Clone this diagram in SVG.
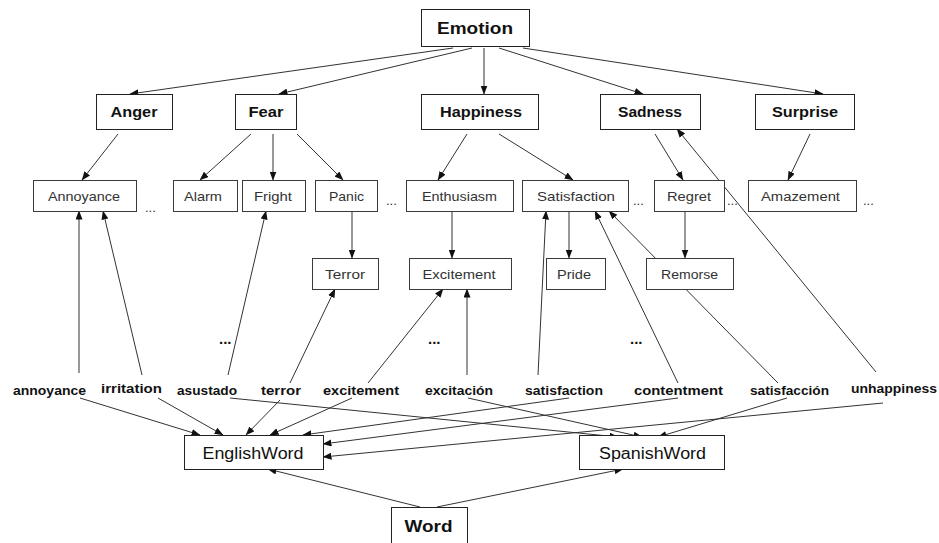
<svg xmlns="http://www.w3.org/2000/svg" width="939" height="543" viewBox="0 0 939 543">
  <style>
    .box { fill: #ffffff; stroke: #222222; stroke-width: 1; }
    .sub { fill: #ffffff; stroke: #3a3a3a; stroke-width: 1; }
    .t1 { font-family: "Liberation Sans", Arial, sans-serif; font-weight: bold; font-size: 17px; fill: #111; }
    .t2 { font-family: "Liberation Sans", Arial, sans-serif; font-weight: bold; font-size: 15px; fill: #111; }
    .t3 { font-family: "Liberation Sans", Arial, sans-serif; font-size: 13px; fill: #333; }
    .tw { font-family: "Liberation Sans", Arial, sans-serif; font-weight: bold; font-size: 13px; fill: #111; }
    .tb { font-family: "Liberation Sans", Arial, sans-serif; font-size: 16px; fill: #111; }
    .dots { font-family: "Liberation Sans", Arial, sans-serif; font-size: 13px; fill: #333; }
    .bdots { font-family: "Liberation Sans", Arial, sans-serif; font-weight: bold; font-size: 15px; fill: #111; }
    .edge { fill: none; stroke: #333333; stroke-width: 1; marker-end: url(#arrow); }
  </style>
  <defs>
    <marker id="arrow" markerWidth="9" markerHeight="7" refX="8.5" refY="3.5" orient="auto" markerUnits="userSpaceOnUse">
      <path d="M0,0 L9,3.5 L0,7 z" fill="#111"/>
    </marker>
  </defs>
  <rect width="939" height="543" fill="#ffffff"/>

  <!-- connectors -->
  <g id="connectors">
    <path class="edge" d="M453,48 L130,94"/>
    <path class="edge" d="M472,48 L279,94"/>
    <path class="edge" d="M484,48 L484,94"/>
    <path class="edge" d="M499,48 L643,94"/>
    <path class="edge" d="M523,48 L823,94"/>

    <path class="edge" d="M118,134 L82,180"/>
    <path class="edge" d="M251,134 L200,180"/>
    <path class="edge" d="M273,134 L273,180"/>
    <path class="edge" d="M297,134 L343,180"/>
    <path class="edge" d="M467,134 L438,180"/>
    <path class="edge" d="M499,134 L573,180"/>
    <path class="edge" d="M655,134 L683,180"/>
    <path class="edge" d="M810,134 L788,180"/>

    <path class="edge" d="M352,211 L352,258"/>
    <path class="edge" d="M452,211 L452,258"/>
    <path class="edge" d="M569,211 L569,258"/>
    <path class="edge" d="M685,211 L685,258"/>

    <!-- words to concepts -->
    <path class="edge" d="M79,373 L79,211"/>
    <path class="edge" d="M142,375 L103,211"/>
    <path class="edge" d="M228,375 L266,211"/>
    <path class="edge" d="M290,383 L335,289"/>
    <path class="edge" d="M368,383 L443,289"/>
    <path class="edge" d="M467,375 L467,289"/>
    <path class="edge" d="M538,375 L546,211"/>
    <path class="edge" d="M678,383 L595,211"/>
    <path class="edge" d="M778,383 L609,211"/>
    <path class="edge" d="M876,372 L677,129"/>

    <!-- words to language classes -->
    <path class="edge" d="M80,398 L200,435"/>
    <path class="edge" d="M158,398 L223,435"/>
    <path class="edge" d="M280,400 L246,435"/>
    <path class="edge" d="M352,398 L270,435"/>
    <path class="edge" d="M569,398 L303,435"/>
    <path class="edge" d="M678,398 L323,444"/>
    <path class="edge" d="M883,403 L323,457"/>
    <path class="edge" d="M230,398 L618,437"/>
    <path class="edge" d="M468,398 L642,437"/>
    <path class="edge" d="M787,398 L658,437"/>

    <path class="edge" d="M420,507 L268,469"/>
    <path class="edge" d="M437,507 L623,469"/>
  </g>

  <!-- top level -->
  <g id="emotion">
    <rect class="box" x="421.5" y="9.5" width="108" height="37"/>
    <text class="t1" x="475" y="34" text-anchor="middle" textLength="76" lengthAdjust="spacingAndGlyphs">Emotion</text>
  </g>

  <!-- basic emotions -->
  <g id="anger">
    <rect class="box" x="96.5" y="94.5" width="76" height="35"/>
    <text class="t2" x="134" y="117" text-anchor="middle" textLength="47" lengthAdjust="spacingAndGlyphs">Anger</text>
  </g>
  <g id="fear">
    <rect class="box" x="235.5" y="94.5" width="61" height="35"/>
    <text class="t2" x="266" y="117" text-anchor="middle" textLength="35" lengthAdjust="spacingAndGlyphs">Fear</text>
  </g>
  <g id="happiness">
    <rect class="box" x="421.5" y="94.5" width="117" height="35"/>
    <text class="t2" x="481" y="117" text-anchor="middle" textLength="82" lengthAdjust="spacingAndGlyphs">Happiness</text>
  </g>
  <g id="sadness">
    <rect class="box" x="600.5" y="94.5" width="100" height="35"/>
    <text class="t2" x="650" y="117" text-anchor="middle" textLength="64" lengthAdjust="spacingAndGlyphs">Sadness</text>
  </g>
  <g id="surprise">
    <rect class="box" x="755.5" y="94.5" width="99" height="35"/>
    <text class="t2" x="805" y="117" text-anchor="middle" textLength="66" lengthAdjust="spacingAndGlyphs">Surprise</text>
  </g>

  <!-- sub-emotions -->
  <g id="annoyance">
    <rect class="sub" x="33.5" y="180.5" width="103" height="31"/>
    <text class="t3" x="84" y="201" text-anchor="middle" textLength="72" lengthAdjust="spacingAndGlyphs">Annoyance</text>
  </g>
  <g id="alarm">
    <rect class="sub" x="173.5" y="180.5" width="64" height="31"/>
    <text class="t3" x="203" y="201" text-anchor="middle" textLength="38" lengthAdjust="spacingAndGlyphs">Alarm</text>
  </g>
  <g id="fright">
    <rect class="sub" x="242.5" y="180.5" width="63" height="31"/>
    <text class="t3" x="273" y="201" text-anchor="middle" textLength="38" lengthAdjust="spacingAndGlyphs">Fright</text>
  </g>
  <g id="panic">
    <rect class="sub" x="315.5" y="180.5" width="62" height="31"/>
    <text class="t3" x="346.5" y="201" text-anchor="middle" textLength="35" lengthAdjust="spacingAndGlyphs">Panic</text>
  </g>
  <g id="enthusiasm">
    <rect class="sub" x="406.5" y="180.5" width="107" height="31"/>
    <text class="t3" x="459.5" y="201" text-anchor="middle" textLength="75" lengthAdjust="spacingAndGlyphs">Enthusiasm</text>
  </g>
  <g id="satisfaction">
    <rect class="sub" x="522.5" y="180.5" width="106" height="31"/>
    <text class="t3" x="576" y="201" text-anchor="middle" textLength="78" lengthAdjust="spacingAndGlyphs">Satisfaction</text>
  </g>
  <g id="regret">
    <rect class="sub" x="654.5" y="180.5" width="70" height="31"/>
    <text class="t3" x="689" y="201" text-anchor="middle" textLength="44" lengthAdjust="spacingAndGlyphs">Regret</text>
  </g>
  <g id="amazement">
    <rect class="sub" x="748.5" y="180.5" width="108" height="31"/>
    <text class="t3" x="800.5" y="201" text-anchor="middle" textLength="79" lengthAdjust="spacingAndGlyphs">Amazement</text>
  </g>

  <g id="terror-node">
    <rect class="sub" x="312.5" y="258.5" width="66" height="31"/>
    <text class="t3" x="345" y="279" text-anchor="middle" textLength="40" lengthAdjust="spacingAndGlyphs">Terror</text>
  </g>
  <g id="excitement-node">
    <rect class="sub" x="409.5" y="258.5" width="102" height="31"/>
    <text class="t3" x="459" y="279" text-anchor="middle" textLength="73" lengthAdjust="spacingAndGlyphs">Excitement</text>
  </g>
  <g id="pride">
    <rect class="sub" x="546.5" y="258.5" width="59" height="31"/>
    <text class="t3" x="574" y="279" text-anchor="middle" textLength="34" lengthAdjust="spacingAndGlyphs">Pride</text>
  </g>
  <g id="remorse">
    <rect class="sub" x="646.5" y="258.5" width="87" height="31"/>
    <text class="t3" x="689.5" y="279" text-anchor="middle" textLength="57" lengthAdjust="spacingAndGlyphs">Remorse</text>
  </g>

  <!-- elisions -->
  <g id="ellipses">
    <text class="dots" x="145" y="212">...</text>
    <text class="dots" x="386" y="205">...</text>
    <text class="dots" x="633" y="205">...</text>
    <text class="dots" x="727" y="205">...</text>
    <text class="dots" x="863" y="205">...</text>
    <text class="bdots" x="219" y="344">...</text>
    <text class="bdots" x="428" y="344">...</text>
    <text class="bdots" x="630" y="344">...</text>
  </g>

  <!-- lexical entries -->
  <g id="w-annoyance"><text class="tw" x="49.5" y="395" text-anchor="middle" textLength="73" lengthAdjust="spacingAndGlyphs">annoyance</text></g>
  <g id="w-irritation"><text class="tw" x="131.5" y="393" text-anchor="middle" textLength="61" lengthAdjust="spacingAndGlyphs">irritation</text></g>
  <g id="w-asustado"><text class="tw" x="207" y="395" text-anchor="middle" textLength="60" lengthAdjust="spacingAndGlyphs">asustado</text></g>
  <g id="w-terror"><text class="tw" x="281" y="395" text-anchor="middle" textLength="40" lengthAdjust="spacingAndGlyphs">terror</text></g>
  <g id="w-excitement"><text class="tw" x="361" y="395" text-anchor="middle" textLength="76" lengthAdjust="spacingAndGlyphs">excitement</text></g>
  <g id="w-excitacion"><text class="tw" x="459" y="395" text-anchor="middle" textLength="68" lengthAdjust="spacingAndGlyphs">excitación</text></g>
  <g id="w-satisfaction"><text class="tw" x="564" y="395" text-anchor="middle" textLength="78" lengthAdjust="spacingAndGlyphs">satisfaction</text></g>
  <g id="w-contentment"><text class="tw" x="678.5" y="395" text-anchor="middle" textLength="89" lengthAdjust="spacingAndGlyphs">contentment</text></g>
  <g id="w-satisfaccion"><text class="tw" x="789.5" y="395" text-anchor="middle" textLength="79" lengthAdjust="spacingAndGlyphs">satisfacción</text></g>
  <g id="w-unhappiness"><text class="tw" x="894" y="393" text-anchor="middle" textLength="86" lengthAdjust="spacingAndGlyphs">unhappiness</text></g>

  <!-- language classes -->
  <g id="englishword">
    <rect class="box" x="184.5" y="435.5" width="139" height="34"/>
    <text class="tb" x="253" y="459" text-anchor="middle" textLength="101" lengthAdjust="spacingAndGlyphs">EnglishWord</text>
  </g>
  <g id="spanishword">
    <rect class="box" x="579.5" y="435.5" width="145" height="34"/>
    <text class="tb" x="652.5" y="459" text-anchor="middle" textLength="107" lengthAdjust="spacingAndGlyphs">SpanishWord</text>
  </g>
  <g id="word">
    <rect class="box" x="391.5" y="507.5" width="76" height="40"/>
    <text class="t1" x="428.5" y="532" text-anchor="middle" textLength="48" lengthAdjust="spacingAndGlyphs">Word</text>
  </g>
</svg>
